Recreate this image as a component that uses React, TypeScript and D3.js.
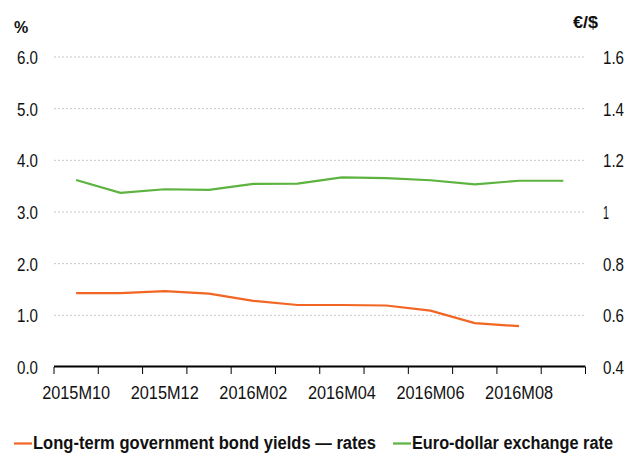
import React from "react";
import * as d3 from "d3";

const months = ["2015M10","2015M11","2015M12","2016M01","2016M02","2016M03","2016M04","2016M05","2016M06","2016M07","2016M08","2016M09"];
const bondYields = [1.43,1.43,1.47,1.42,1.28,1.20,1.20,1.19,1.09,0.85,0.79];
const euroDollar = [1.124,1.074,1.088,1.086,1.109,1.110,1.134,1.131,1.123,1.107,1.121,1.121];
const leftTicks = [0,1,2,3,4,5,6];
const rightTicks = [0.4,0.6,0.8,1,1.2,1.4,1.6];
const labelMonths = ["2015M10","2015M12","2016M02","2016M04","2016M06","2016M08"];

const W = 638, H = 454;
const left = 54, right = 585.5, top = 57, bottom = 367;
const ORANGE = "#f26522";
const GREEN = "#5db33f";
const FONT = "'Liberation Sans', Arial, sans-serif";

export default function App() {
  const x = d3.scaleBand<string>().domain(months).range([left, right]);
  const yL = d3.scaleLinear().domain([0, 6]).range([bottom, top]);
  const yR = d3.scaleLinear().domain([0.4, 1.6]).range([bottom, top]);
  const cx = (m: string) => (x(m) as number) + x.bandwidth() / 2;

  const lineL = d3.line<number>().x((_, i) => cx(months[i])).y(d => yL(d));
  const lineR = d3.line<number>().x((_, i) => cx(months[i])).y(d => yR(d));

  const boundaries = months.map(m => x(m) as number).concat([right]);

  return (
    <svg width={W} height={H} style={{ position: "absolute", left: 0, top: 0, background: "#fff" }} fontFamily={FONT}>
      {leftTicks.filter(t => t !== 0).map(t => (
        <line key={"g" + t} x1={left} x2={right} y1={yL(t)} y2={yL(t)} stroke="#c8c8c8" strokeWidth={1} strokeDasharray="2,2" />
      ))}
      {leftTicks.map(t => (
        <text key={"l" + t} x={38} y={yL(t)} dy="0.36em" textAnchor="end" fontSize={19} textLength={21} lengthAdjust="spacingAndGlyphs" fill="#111">{t.toFixed(1)}</text>
      ))}
      {rightTicks.map(t => {
        const s = String(+t.toFixed(1));
        return (
          <text key={"r" + t} x={603} y={yR(t)} dy="0.36em" textAnchor="start" fontSize={19} textLength={s.length === 1 ? 6 : 21} lengthAdjust="spacingAndGlyphs" fill="#111">{s}</text>
        );
      })}
      <text x={14} y={33} fontSize={16} fontWeight="bold" fill="#111">%</text>
      <text x={573} y={28} fontSize={17} fontWeight="bold" textLength={25} lengthAdjust="spacingAndGlyphs" fill="#111">€/$</text>

      <path d={lineR(euroDollar) || ""} fill="none" stroke={GREEN} strokeWidth={2.2} />
      <path d={lineL(bondYields) || ""} fill="none" stroke={ORANGE} strokeWidth={2.2} />

      <line x1={left} x2={right} y1={bottom - 0.5} y2={bottom - 0.5} stroke="#000" strokeWidth={2} />
      {boundaries.map((b, i) => (
        <line key={"t" + i} x1={b} x2={b} y1={bottom} y2={bottom + 7} stroke="#000" strokeWidth={1} />
      ))}
      {labelMonths.map(m => (
        <text key={m} x={cx(m)} y={399} textAnchor="middle" fontSize={17.5} textLength={68} lengthAdjust="spacingAndGlyphs" fill="#111">{m}</text>
      ))}

      <line x1={14} x2={32} y1={443.5} y2={443.5} stroke={ORANGE} strokeWidth={2.2} />
      <text x={33} y={449} fontSize={17.5} fontWeight="bold" textLength={343} lengthAdjust="spacingAndGlyphs" fill="#111">Long-term government bond yields — rates</text>
      <line x1={393} x2={411} y1={443.5} y2={443.5} stroke={GREEN} strokeWidth={2.2} />
      <text x={412} y={449} fontSize={17.5} fontWeight="bold" textLength={201} lengthAdjust="spacingAndGlyphs" fill="#111">Euro-dollar exchange rate</text>
    </svg>
  );
}
